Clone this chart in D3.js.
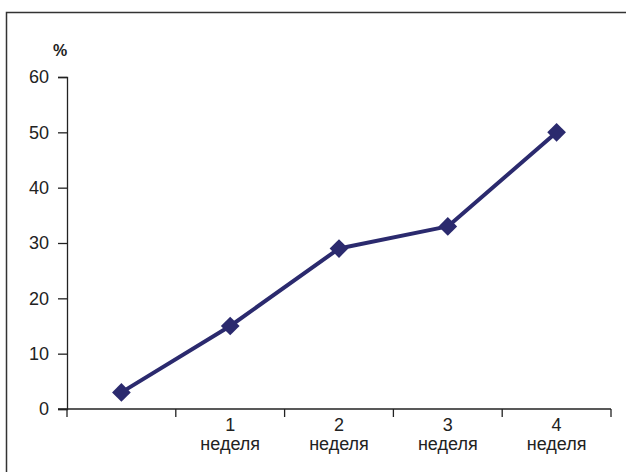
<!DOCTYPE html>
<html><head><meta charset="utf-8">
<script src="https://cdn.jsdelivr.net/npm/d3@7"></script>
<style>body{margin:0;background:#fff;}svg{display:block;font-family:"Liberation Sans",Arial,sans-serif;}</style>
</head><body>
<svg id="c" width="626" height="472"></svg>
<script>
const categories = ["", "1|неделя", "2|неделя", "3|неделя", "4|неделя"];
const values = [3, 15, 29, 33, 50];
const yTicks = [0, 10, 20, 30, 40, 50, 60];
const yLabel = "%";

const svg = d3.select("#c");
const color = "#2b2a6e";
// frame
svg.append("rect").attr("x", 6.5).attr("y", 12.5).attr("width", 700).attr("height", 700)
  .attr("fill", "none").attr("stroke", "#333").attr("stroke-width", 1.5);

const x = d3.scaleBand().domain(d3.range(categories.length)).range([67, 611]);
const y = d3.scaleLinear().domain([0, 60]).range([409, 77]);

// y axis
const yAxis = svg.append("g").attr("transform", "translate(67,0)")
  .call(d3.axisLeft(y).tickValues(yTicks).tickSize(9).tickPadding(9));
yAxis.select(".domain").attr("stroke", "#222").attr("stroke-width", 1.3);
yAxis.selectAll(".tick line").attr("stroke", "#222").attr("stroke-width", 1.3);
yAxis.selectAll("text").attr("font-size", 18).attr("fill", "#222").attr("font-family", "Liberation Sans, Arial, sans-serif");

// x axis
const xAxisG = svg.append("g").attr("transform", "translate(0,409)");
xAxisG.append("line").attr("x1", 58).attr("x2", 611).attr("stroke", "#222").attr("stroke-width", 1.3);
const bounds = d3.range(categories.length + 1).map(i => i < categories.length ? x(i) : x(categories.length - 1) + x.bandwidth());
xAxisG.selectAll(".xt").data(bounds).join("line")
  .attr("x1", d => d).attr("x2", d => d).attr("y1", 0).attr("y2", 8)
  .attr("stroke", "#222").attr("stroke-width", 1.3);
categories.forEach((c, i) => {
  if (!c) return;
  const parts = c.split("|");
  const t = xAxisG.append("text").attr("text-anchor", "middle").attr("font-size", 18).attr("fill", "#222");
  parts.forEach((p, j) => {
    t.append("tspan").attr("x", x(i) + x.bandwidth() / 2).attr("y", 22 + j * 19).text(p);
  });
});

// y label
svg.append("text").attr("x", 60).attr("y", 56).attr("text-anchor", "middle")
  .attr("font-size", 16).attr("font-weight", "bold").attr("fill", "#222").text(yLabel);

// line
const line = d3.line().x((d, i) => x(i) + x.bandwidth() / 2).y(d => y(d));
svg.append("path").datum(values).attr("d", line).attr("fill", "none")
  .attr("stroke", color).attr("stroke-width", 4).attr("stroke-linejoin", "round");
svg.selectAll(".pt").data(values).join("path")
  .attr("d", d3.symbol(d3.symbolSquare, 175))
  .attr("transform", (d, i) => `translate(${x(i) + x.bandwidth() / 2},${y(d)}) rotate(45)`)
  .attr("fill", color);
</script>
</body></html>
